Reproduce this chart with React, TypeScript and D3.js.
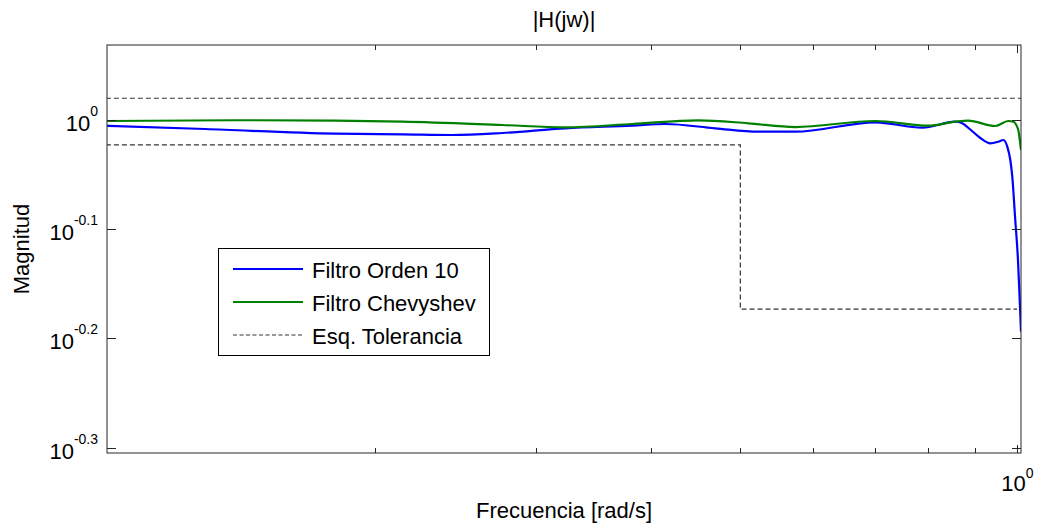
import React from "react";
import * as d3 from "d3";

// ---- Data ----
const freqOrden10 = [0.1023, 0.1308, 0.1812, 0.2144, 0.2429, 0.2754, 0.3225, 0.3814, 0.4143, 0.4695, 0.5231, 0.5738, 0.7011, 0.7887, 0.8567, 0.8719, 0.8896, 0.9122, 0.9353, 0.9542, 0.9663, 0.9760, 0.9834, 0.9883, 0.9957, 1.0025, 1.0065, 1.0101];
const magOrden10 = [0.9880, 0.9812, 0.9715, 0.9703, 0.9689, 0.9730, 0.9826, 0.9881, 0.9916, 0.9826, 0.9756, 0.9756, 0.9952, 0.9839, 0.9964, 0.9931, 0.9802, 0.9628, 0.9520, 0.9553, 0.9587, 0.9453, 0.9191, 0.8872, 0.8096, 0.7442, 0.6890, 0.6400];

const freqChev = [0.1023, 0.1483, 0.1812, 0.2144, 0.2754, 0.3225, 0.3814, 0.4499, 0.5100, 0.5738, 0.7011, 0.8007, 0.8567, 0.8851, 0.9471, 0.9784, 0.9908, 1.0025, 1.0101];
const magChev = [0.9979, 0.9995, 0.9985, 0.9964, 0.9895, 0.9847, 0.9916, 0.9994, 0.9931, 0.9853, 0.9979, 0.9881, 0.9964, 0.9985, 0.9874, 0.9979, 0.9964, 0.9812, 0.9387];

const tolUpperFreq = [0.1, 1.02];
const tolUpperMag = [1.047, 1.047];
const tolLowerFreq = [0.1, 0.5, 0.5, 1.0];
const tolLowerMag = [0.949, 0.949, 0.671, 0.671];

const yTickExps = ["0", "-0.1", "-0.2", "-0.3"];
const xMinorTicks = [0.2, 0.3, 0.4, 0.5, 0.6, 0.7, 0.8, 0.9];
const xMajorTicks = [1];
const xMajorLabels = ["0"];

const legendLabels = ["Filtro Orden 10", "Filtro Chevyshev", "Esq. Tolerancia"];

const title = "|H(jw)|";
const xLabel = "Frecuencia [rad/s]";
const yLabel = "Magnitud";

// ---- Layout ----
const W = 1039;
const H = 529;
const L = 107, R = 1021, T = 45, B = 453;
const FONT = "'Liberation Sans', Arial, Helvetica, sans-serif";

export default function App() {
  const x = d3.scaleLog().domain([0.1023, 1.0101]).range([L, R]);
  const y = d3.scaleLog().domain([Math.pow(10, -0.305), Math.pow(10, 0.0687)]).range([B, T]);

  const smooth = d3.line<[number, number]>().x(d => x(d[0])).y(d => y(d[1])).curve(d3.curveMonotoneX);
  const straight = d3.line<[number, number]>().x(d => x(d[0])).y(d => y(d[1]));

  const blue = smooth(freqOrden10.map((f, i) => [f, magOrden10[i]] as [number, number])) || "";
  const green = smooth(freqChev.map((f, i) => [f, magChev[i]] as [number, number])) || "";
  const tolU = straight(tolUpperFreq.map((f, i) => [f, tolUpperMag[i]] as [number, number])) || "";
  const tolL = straight(tolLowerFreq.map((f, i) => [f, tolLowerMag[i]] as [number, number])) || "";

  const axisColor = "#262626";
  const legX = 218.5, legY = 248.5, legW = 271, legH = 107;
  const legRows = [269, 302, 335];
  const legStyles = [
    { stroke: "#0000ff", w: 2, dash: undefined as string | undefined },
    { stroke: "#008000", w: 2, dash: undefined as string | undefined },
    { stroke: "#333333", w: 1, dash: "4,2.5" },
  ];

  return (
    <svg width={W} height={H} style={{ position: "absolute", left: 0, top: 0, background: "#fff" }} fontFamily={FONT}>
      <rect x={0} y={0} width={W} height={H} fill="#fff" />
      <defs>
        <clipPath id="plotClip">
          <rect x={L} y={T} width={R - L} height={B - T} />
        </clipPath>
      </defs>

      {/* data */}
      <g clipPath="url(#plotClip)">
        <path d={tolU} fill="none" stroke="#333" strokeWidth={1.2} strokeDasharray="5,3" />
        <path d={tolL} fill="none" stroke="#333" strokeWidth={1.2} strokeDasharray="5,3" />
        <path d={blue} fill="none" stroke="#0000ff" strokeWidth={2.2} />
        <path d={green} fill="none" stroke="#008000" strokeWidth={2.2} />
      </g>

      {/* axes box */}
      <rect x={L} y={T} width={R - L} height={B - T} fill="none" stroke={axisColor} strokeWidth={1} />

      {/* y ticks */}
      {yTickExps.map(e => {
        const v = Math.pow(10, parseFloat(e));
        const py = Math.round(y(v)) + 0.5;
        return (
          <g key={e}>
            <line x1={L} x2={L + 9} y1={py} y2={py} stroke={axisColor} />
            <line x1={R - 9} x2={R} y1={py} y2={py} stroke={axisColor} />
            <text x={98} y={py + 10} textAnchor="end" fontSize={22} fill="#000">
              <tspan>10</tspan>
              <tspan dy={-15} fontSize={14}>{e}</tspan>
            </text>
          </g>
        );
      })}

      {/* x ticks */}
      {xMinorTicks.map(t => {
        const px = Math.round(x(t)) + 0.5;
        return (
          <g key={t}>
            <line x1={px} x2={px} y1={B} y2={B - 5} stroke={axisColor} />
            <line x1={px} x2={px} y1={T} y2={T + 5} stroke={axisColor} />
          </g>
        );
      })}
      {xMajorTicks.map((t, i) => {
        const px = Math.round(x(t)) + 0.5;
        return (
          <g key={"M" + t}>
            <line x1={px} x2={px} y1={B} y2={B - 8} stroke={axisColor} />
            <line x1={px} x2={px} y1={T} y2={T + 8} stroke={axisColor} />
            <text x={px} y={491} textAnchor="middle" fontSize={22} fill="#000">
              <tspan>10</tspan>
              <tspan dy={-13} fontSize={14}>{xMajorLabels[i]}</tspan>
            </text>
          </g>
        );
      })}

      {/* titles */}
      <text x={(L + R) / 2} y={27} textAnchor="middle" fontSize={22} fill="#000">{title}</text>
      <text x={(L + R) / 2} y={518} textAnchor="middle" fontSize={22} fill="#000">{xLabel}</text>
      <text transform={`translate(29, ${(T + B) / 2}) rotate(-90)`} textAnchor="middle" fontSize={22} fill="#000">{yLabel}</text>

      {/* legend */}
      <rect x={legX} y={legY} width={legW} height={legH} fill="#fff" stroke="#000" strokeWidth={1} />
      {legendLabels.map((lab, i) => (
        <g key={lab}>
          <line x1={233} x2={303} y1={legRows[i]} y2={legRows[i]} stroke={legStyles[i].stroke} strokeWidth={legStyles[i].w} strokeDasharray={legStyles[i].dash} />
          <text x={312} y={legRows[i] + 9} fontSize={22} fill="#000">{lab}</text>
        </g>
      ))}
    </svg>
  );
}
